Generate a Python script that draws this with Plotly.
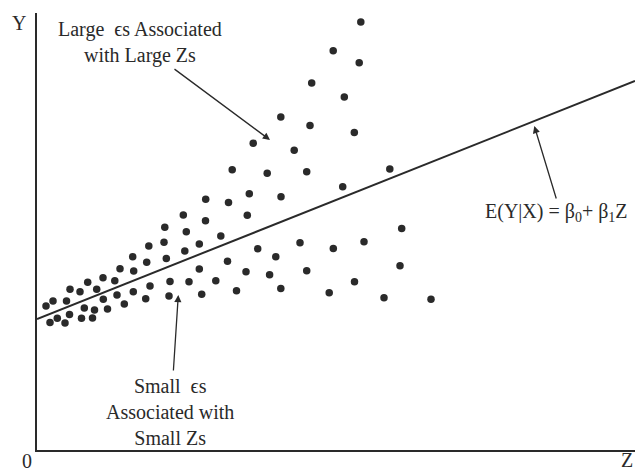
import plotly.graph_objects as go

# Observations (Z, Y) in arbitrary units: the spread around the line widens as Z grows
z_vals = [9, 16, 29.5, 13, 20.3, 28, 32.5, 33, 43, 50.7,
          44.5, 47.3, 55.5, 57.5, 59.7, 66.3, 66, 70.5, 77.8, 80,
          83, 87.3, 95.7, 96.7, 96.3, 109.7, 108.7, 113, 111.8, 127,
          129.3, 133, 132, 127.8, 146.3, 149.3, 147.8, 152, 162.3, 162.3,
          164.7, 168.7, 168.5, 178.8, 183.8, 190.5, 191.5, 199.5, 209, 210.3,
          212.3, 220.7, 195.2, 216.2, 230.2, 232.6, 238.8, 243.8, 244, 243.8,
          257.2, 263, 269.7, 269.7, 273, 274.7, 292.2, 296.3, 296.2, 305.7,
          307.3, 317.3, 317.5, 322.2, 323.8, 327, 347, 352.8, 363, 364.7,
          394]
y_vals = [144, 149, 149, 127.5, 131.7, 127, 135.5, 160.7, 158.3, 167.7,
          131.7, 142, 132, 140, 160.7, 150.7, 172.3, 141, 169.3, 155,
          181.3, 146, 193.3, 179, 158.3, 187.7, 151.3, 164, 204, 207.7,
          191.5, 168.5, 154, 222.7, 235, 218.3, 199, 168.3, 206, 181,
          155.7, 250.8, 229.3, 169.3, 214, 188.8, 247.5, 159.3, 178.2, 234.7,
          256.3, 201.2, 280.2, 306.7, 276.7, 175.2, 193.3, 161.5, 253.3, 333,
          299.8, 207.3, 179.3, 278.2, 324.5, 367, 157.3, 201.5, 399.2, 263.3,
          353, 317.5, 168.3, 387.3, 428, 208.3, 152.3, 281, 184.3, 221.5,
          150.7]

# Population regression line E(Y|X) = b0 + b1 Z
B0 = 131.0
B1 = 0.398
Z_MAX = 598
Y_MAX = 437

ink = "#2a2a2a"
serif = "Liberation Serif, Times New Roman, serif"
label_font = dict(size=20, color=ink, family=serif)

fig = go.Figure()

fig.add_trace(go.Scatter(
    x=[0, Z_MAX], y=[B0, B0 + B1 * Z_MAX],
    mode="lines", line=dict(color=ink, width=2),
    hoverinfo="skip", showlegend=False,
))

fig.add_trace(go.Scatter(
    x=z_vals, y=y_vals, mode="markers",
    marker=dict(color=ink, size=7.5, line=dict(width=0)),
    showlegend=False,
))

annotations = [
    dict(x=103, y=408, text="Large  \u03f5s Associated<br>with Large Zs",
         showarrow=False, font=label_font),
    dict(x=133, y=38, text="Small  \u03f5s<br>Associated with<br>Small Zs",
         showarrow=False, font=label_font),
    dict(x=519, y=238, text="E(Y|X) = \u03b2<sub>0</sub>+ \u03b2<sub>1</sub>Z",
         showarrow=False, font=label_font),
    # axis names and origin, placed in the margins
    dict(x=-0.030, y=0.977, xref="paper", yref="paper", text="Y",
         xanchor="center", yanchor="middle", showarrow=False, font=label_font),
    dict(x=-0.016, y=-0.025, xref="paper", yref="paper", text="0",
         xanchor="center", yanchor="middle", showarrow=False, font=label_font),
    dict(x=1.0, y=-0.022, xref="paper", yref="paper", text="Z",
         xanchor="right", yanchor="middle", showarrow=False, font=label_font),
]

# Pointer arrows: tail at (ax, ay), head at (x, y)
arrows = [
    (233, 310, 136, 382),
    (141.3, 155, 136.3, 78),
    (497.3, 324, 519.7, 250),
]
for hx, hy, tx, ty in arrows:
    annotations.append(dict(
        x=hx, y=hy, ax=tx, ay=ty, xref="x", yref="y", axref="x", ayref="y",
        text="", showarrow=True, arrowhead=2, arrowsize=1.1, arrowwidth=1.3,
        arrowcolor=ink,
    ))

fig.update_layout(
    width=635, height=473,
    margin=dict(l=37, r=0, t=13, b=23),
    paper_bgcolor="white", plot_bgcolor="white",
    annotations=annotations,
    xaxis=dict(range=[0, Z_MAX], showgrid=False, zeroline=False,
               showticklabels=False, ticks="", showline=True,
               linecolor=ink, linewidth=2, fixedrange=True),
    yaxis=dict(range=[0, Y_MAX], showgrid=False, zeroline=False,
               showticklabels=False, ticks="", showline=True,
               linecolor=ink, linewidth=2, fixedrange=True),
)

fig.write_html("out.html")
